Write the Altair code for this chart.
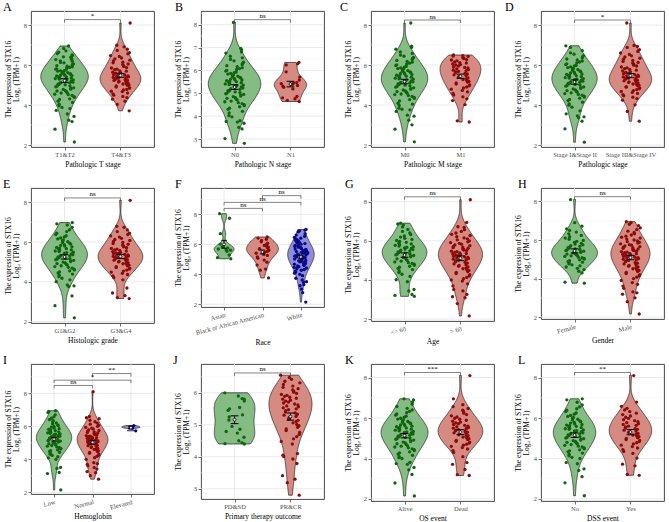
import altair as alt
import pandas as pd

FONT = "Liberation Serif"

# violin fills and point colours for the 1st, 2nd and 3rd group of a panel
FILL = ["#84BC84", "#D68B82", "#8E8ED8"]
DOT = ["#0E650E", "#8B0A0A", "#0A0A8A"]

# ---------------- STX16 expression, log2(TPM+1), per clinical group ----------------
t12 = [2.15, 2.79, 3.17, 3.24, 3.43, 3.55, 3.73, 3.82, 3.88, 3.96, 4.04, 4.13,
       4.19, 4.28, 4.31, 4.39, 4.41, 4.48, 4.52, 4.54, 4.6, 4.61, 4.67, 4.7, 4.72, 4.78, 4.79, 4.84, 4.86, 4.91, 4.94, 4.96,
       5.01, 5.03, 5.04, 5.09, 5.11, 5.13, 5.14, 5.18, 5.2, 5.21, 5.25, 5.26, 5.3, 5.32, 5.34, 5.35, 5.39, 5.4, 5.43, 5.45,
       5.47, 5.49, 5.5, 5.53, 5.55, 5.56, 5.6, 5.62, 5.64, 5.65, 5.69, 5.71, 5.72, 5.76, 5.79, 5.8, 5.85, 5.88,
       5.91, 5.94, 5.97, 5.99, 6.04, 6.06, 6.11, 6.13, 6.19, 6.21, 6.27, 6.29, 6.33, 6.39, 6.41, 6.48, 6.51, 6.57, 6.64,
       6.71, 6.83, 6.95]
t34 = [3.71, 4.03, 4.19, 4.29, 4.37, 4.43, 4.49, 4.56, 4.6, 4.67, 4.69, 4.75, 4.78, 4.84, 4.86, 4.9, 4.95, 4.98,
       5.0, 5.04, 5.05, 5.1, 5.11, 5.15, 5.18, 5.19, 5.23, 5.24, 5.27, 5.29, 5.31, 5.34, 5.37, 5.38, 5.41, 5.44, 5.46,
       5.5, 5.52, 5.55, 5.59, 5.62, 5.64, 5.69, 5.71, 5.77, 5.79, 5.85, 5.87, 5.93, 5.96, 6.02, 6.05, 6.11, 6.14, 6.21,
       6.24, 6.31, 6.35, 6.43, 6.47, 6.56, 6.62, 6.73, 6.79, 6.91, 6.99, 8.1]
n0 = [2.81, 3.02, 3.44, 3.51, 3.69, 3.74, 3.77, 3.8, 3.97, 4.02, 4.14,
      4.21, 4.3, 4.35, 4.41, 4.46, 4.5, 4.55, 4.59, 4.63, 4.66, 4.71, 4.74, 4.78, 4.81, 4.85, 4.88, 4.92, 4.95, 4.98,
      5.01, 5.03, 5.06, 5.09, 5.12, 5.14, 5.17, 5.2, 5.23, 5.25, 5.28, 5.31, 5.33, 5.36, 5.38, 5.41, 5.43, 5.46, 5.48,
      5.51, 5.53, 5.55, 5.58, 5.6, 5.62, 5.65, 5.67, 5.7, 5.72, 5.75, 5.78, 5.81, 5.84, 5.87,
      5.9, 5.93, 5.97, 6.0, 6.04, 6.08, 6.12, 6.17, 6.21, 6.26, 6.31, 6.36, 6.42, 6.48, 6.55, 6.62, 6.76, 6.81, 6.9,
      6.96, 8.1]
n1 = [4.64, 4.69, 4.76, 4.8, 4.86, 5.19, 5.26, 5.31, 5.34, 5.38, 5.42, 5.44, 5.47, 5.58, 5.71, 5.94, 6.24, 6.29, 6.35]
m0 = [2.16, 2.79, 3.01, 3.24, 3.44, 3.49, 3.68, 3.76, 3.79, 3.84, 3.98, 4.04, 4.09,
      4.2, 4.27, 4.33, 4.38, 4.43, 4.47, 4.52, 4.55, 4.59, 4.64, 4.67, 4.71, 4.75, 4.79, 4.82, 4.86, 4.89, 4.93, 4.96, 4.99,
      5.02, 5.05, 5.07, 5.1, 5.13, 5.16, 5.18, 5.21, 5.23, 5.26, 5.29, 5.31, 5.34, 5.36, 5.39, 5.42, 5.44, 5.47, 5.49,
      5.52, 5.55, 5.58, 5.61, 5.63, 5.66, 5.69, 5.72, 5.75, 5.79, 5.82, 5.86,
      5.89, 5.93, 5.97, 6.01, 6.05, 6.09, 6.14, 6.18, 6.23, 6.28, 6.33, 6.38, 6.44, 6.5, 6.58, 6.66, 6.79, 6.88, 6.94, 8.1]
m1 = [3.15, 3.21, 4.02, 4.22, 4.31, 4.41, 4.5, 4.58, 4.66, 4.73, 4.79, 4.85, 4.9, 4.96, 5.01, 5.05, 5.1, 5.14, 5.18,
      5.22, 5.27, 5.31, 5.35, 5.39, 5.43, 5.47, 5.51, 5.55, 5.59, 5.63, 5.66, 5.68, 5.72, 5.74, 5.77, 5.81, 5.86, 5.88,
      5.9, 5.95, 6.0, 6.02, 6.05, 6.1, 6.12, 6.16, 6.21, 6.25, 6.27, 6.32, 6.36, 6.38, 6.43, 6.45, 6.47, 6.5]
s12 = [2.14, 2.81, 3.19, 3.36, 3.41, 3.46, 3.56, 3.71, 3.89, 3.99, 4.06, 4.14,
       4.22, 4.28, 4.34, 4.4, 4.44, 4.49, 4.53, 4.57, 4.61, 4.65, 4.68, 4.72, 4.76, 4.8, 4.83, 4.87, 4.9, 4.94, 4.97,
       5.0, 5.03, 5.06, 5.08, 5.11, 5.14, 5.16, 5.19, 5.22, 5.24, 5.27, 5.3, 5.32, 5.35, 5.37, 5.4, 5.42, 5.45, 5.47,
       5.5, 5.53, 5.55, 5.58, 5.61, 5.64, 5.67, 5.7, 5.73, 5.77, 5.8, 5.83, 5.87,
       5.91, 5.95, 5.98, 6.02, 6.06, 6.11, 6.15, 6.2, 6.25, 6.3, 6.36, 6.41, 6.47, 6.54, 6.61, 6.72, 6.88, 6.96]
s34 = [3.19, 3.68, 4.01, 4.24, 4.32, 4.39, 4.46, 4.52, 4.58, 4.63, 4.68, 4.72, 4.77, 4.81, 4.85, 4.89, 4.92, 4.96, 4.99,
       5.02, 5.05, 5.08, 5.11, 5.13, 5.16, 5.19, 5.21, 5.24, 5.26, 5.29, 5.32, 5.34, 5.37, 5.4, 5.43, 5.46, 5.49, 5.52,
       5.56, 5.59, 5.63, 5.66, 5.7, 5.74, 5.78,
       5.82, 5.86, 5.9, 5.95, 5.99, 6.04, 6.09, 6.13, 6.18, 6.23, 6.29, 6.34, 6.4, 6.46, 6.53, 6.6, 6.68, 6.77, 6.88,
       6.93, 6.98, 8.1]
g12 = [2.19, 2.8, 3.29, 3.76, 3.8, 3.84, 4.01, 4.1, 4.18,
       4.26, 4.33, 4.39, 4.45, 4.5, 4.55, 4.6, 4.64, 4.69, 4.73, 4.77, 4.81, 4.85, 4.88, 4.92, 4.95, 4.99,
       5.02, 5.05, 5.08, 5.11, 5.14, 5.17, 5.2, 5.22, 5.25, 5.28, 5.31, 5.33, 5.36, 5.39, 5.41, 5.44, 5.47, 5.49, 5.52,
       5.55, 5.58, 5.61, 5.64, 5.67, 5.7, 5.73, 5.76, 5.8, 5.83, 5.87,
       5.9, 5.94, 5.98, 6.02, 6.07, 6.11, 6.16, 6.21, 6.26, 6.32, 6.38, 6.45, 6.53, 6.62, 6.74, 6.86, 6.92, 6.98]
g34 = [3.16, 3.21, 3.31, 3.44, 3.69, 4.1,
       4.22, 4.3, 4.37, 4.43, 4.49, 4.54, 4.59, 4.64, 4.68, 4.72, 4.76, 4.8, 4.84, 4.87, 4.91, 4.94, 4.97,
       5.0, 5.03, 5.06, 5.09, 5.12, 5.15, 5.17, 5.2, 5.22, 5.25, 5.28, 5.3, 5.33, 5.35, 5.38, 5.41, 5.43, 5.46, 5.49,
       5.52, 5.55, 5.58, 5.61, 5.65, 5.68, 5.72, 5.76,
       5.8, 5.84, 5.89, 5.93, 5.98, 6.03, 6.08, 6.13, 6.19, 6.25, 6.31, 6.38, 6.45, 6.53, 6.61, 6.74, 6.79, 8.1]
asian = [5.04, 5.11, 5.29, 5.54, 5.61, 5.66, 5.69, 5.76, 5.84, 6.02, 6.71, 7.74, 8.05]
black = [3.76, 4.28, 4.35, 4.62, 4.81, 4.95, 5.08, 5.17, 5.26, 5.33, 5.41, 5.47, 5.53, 5.58, 5.63, 5.68, 5.72, 5.77,
         5.82, 5.88, 5.93, 6.0, 6.08, 6.17, 6.26, 6.34, 6.42, 6.49]
white = [2.15, 2.78, 3.01, 3.24, 3.31, 3.46, 3.51, 3.62, 3.74, 3.91, 4.0, 4.08, 4.15,
         4.21, 4.27, 4.32, 4.37, 4.42, 4.47, 4.51, 4.56, 4.6, 4.64, 4.68, 4.72, 4.75, 4.79, 4.83, 4.86, 4.9, 4.93, 4.96,
         4.99, 5.02, 5.05, 5.08, 5.1, 5.13, 5.16, 5.18, 5.21, 5.24, 5.26, 5.29, 5.31, 5.34, 5.37, 5.39, 5.42, 5.44,
         5.47, 5.5, 5.52, 5.55, 5.58, 5.6, 5.63, 5.66, 5.69, 5.72, 5.76, 5.79, 5.82, 5.86,
         5.89, 5.93, 5.97, 6.01, 6.05, 6.1, 6.14, 6.19, 6.24, 6.29, 6.35, 6.41, 6.47, 6.54, 6.62, 6.71, 6.84, 6.9,
         6.95, 6.99]
age_le60 = [3.16, 3.21, 3.26, 3.44, 3.51, 3.91, 4.01,
            4.18, 4.29, 4.38, 4.46, 4.53, 4.59, 4.65, 4.7, 4.75, 4.8, 4.84, 4.88, 4.92, 4.96,
            5.0, 5.04, 5.08, 5.11, 5.15, 5.18, 5.22, 5.25, 5.28, 5.31, 5.34, 5.37, 5.4, 5.43, 5.46, 5.49, 5.52, 5.55,
            5.58, 5.61, 5.64, 5.67, 5.7, 5.73, 5.77, 5.8, 5.84,
            5.88, 5.92, 5.97, 6.02, 6.07, 6.13, 6.19, 6.25, 6.32, 6.4, 6.48, 6.58, 6.71, 6.81, 6.86, 6.9]
age_gt60 = [2.16, 2.79, 3.09, 3.14, 3.26, 3.44, 3.51, 3.69, 3.8, 3.94, 4.0, 4.06, 4.13,
            4.2, 4.27, 4.33, 4.38, 4.43, 4.48, 4.53, 4.57, 4.62, 4.66, 4.7, 4.74, 4.78, 4.82, 4.86, 4.9, 4.93, 4.97,
            5.0, 5.03, 5.06, 5.09, 5.12, 5.15, 5.18, 5.21, 5.24, 5.27, 5.3, 5.33, 5.35, 5.38, 5.41, 5.44, 5.47, 5.5,
            5.53, 5.56, 5.59, 5.62, 5.65, 5.68, 5.72, 5.75, 5.79, 5.83,
            5.87, 5.91, 5.95, 6.0, 6.05, 6.1, 6.15, 6.21, 6.27, 6.33, 6.4, 6.48, 6.57, 6.68, 6.72, 6.94, 8.1]
female = [3.76, 3.81, 4.29, 4.38, 4.46, 4.53, 4.6, 4.66, 4.71, 4.76, 4.81, 4.85, 4.89, 4.93, 4.97,
          5.01, 5.04, 5.08, 5.11, 5.15, 5.18, 5.21, 5.24, 5.27, 5.3, 5.33, 5.36, 5.39, 5.42, 5.45, 5.48, 5.51, 5.54,
          5.57, 5.6, 5.64, 5.67, 5.71, 5.75, 5.79,
          5.83, 5.88, 5.93, 5.98, 6.04, 6.1, 6.17, 6.24, 6.32, 6.41, 6.5, 6.58, 6.72, 6.9, 8.1]
male = [2.16, 2.8, 3.0, 3.19, 3.26, 3.31, 3.49, 3.61, 3.7, 3.79, 3.9, 4.0, 4.07, 4.14,
        4.2, 4.26, 4.32, 4.37, 4.42, 4.47, 4.51, 4.56, 4.6, 4.64, 4.68, 4.72, 4.76, 4.8, 4.83, 4.87, 4.9, 4.94, 4.97,
        5.0, 5.03, 5.06, 5.09, 5.12, 5.15, 5.18, 5.2, 5.23, 5.26, 5.29, 5.31, 5.34, 5.37, 5.4, 5.42, 5.45, 5.48,
        5.51, 5.54, 5.57, 5.6, 5.63, 5.66, 5.69, 5.73, 5.76, 5.8, 5.84,
        5.88, 5.92, 5.96, 6.0, 6.05, 6.1, 6.15, 6.2, 6.26, 6.32, 6.39, 6.46, 6.54, 6.63, 6.75, 6.82, 6.91, 6.95]
hb_low = [2.15, 3.14, 3.21, 3.45, 3.51, 4.0, 4.09, 4.16,
          4.24, 4.31, 4.37, 4.43, 4.48, 4.53, 4.58, 4.63, 4.67, 4.72, 4.76, 4.8, 4.84, 4.88, 4.91, 4.95, 4.98,
          5.02, 5.05, 5.08, 5.11, 5.14, 5.17, 5.2, 5.23, 5.26, 5.29, 5.32, 5.35, 5.37, 5.4, 5.43, 5.46, 5.49, 5.52,
          5.55, 5.58, 5.61, 5.64, 5.67, 5.71, 5.74, 5.78, 5.82,
          5.86, 5.9, 5.95, 5.99, 6.04, 6.09, 6.15, 6.21, 6.27, 6.34, 6.41, 6.49, 6.58, 6.7, 6.84, 6.9, 6.95]
hb_normal = [2.8, 3.01, 3.19, 3.26, 3.41, 3.5, 3.61, 3.69, 3.74, 3.8, 4.0, 4.1,
             4.18, 4.25, 4.31, 4.37, 4.42, 4.47, 4.52, 4.56, 4.6, 4.64, 4.68, 4.72, 4.76, 4.79, 4.83, 4.86, 4.9, 4.93,
             4.96, 4.99, 5.02, 5.05, 5.08, 5.1, 5.13, 5.16, 5.19, 5.21, 5.24, 5.27, 5.3, 5.32, 5.35, 5.38, 5.41,
             5.44, 5.47, 5.5, 5.53, 5.56, 5.6, 5.63, 5.67, 5.71,
             5.75, 5.79, 5.84, 5.89, 5.94, 6.0, 6.06, 6.13, 6.2, 6.28, 6.37, 6.46, 6.52, 6.6, 8.1]
hb_elevated = [5.73, 5.9, 5.95, 5.98, 6.05]
pd_sd = [4.4, 4.41, 4.44, 4.5, 4.61, 4.74, 4.79, 4.86, 4.95, 5.15, 5.25, 5.31, 5.45, 5.5, 5.54, 5.74, 5.8, 5.82,
         5.9, 6.0]
pr_cr = [2.8, 3.19, 3.3, 3.41, 3.79, 3.93, 4.01, 4.05, 4.1, 4.4, 4.48, 4.56,
         4.63, 4.7, 4.76, 4.82, 4.87, 4.92, 4.97, 5.01, 5.06, 5.1, 5.14, 5.18, 5.22, 5.26, 5.3, 5.33, 5.37, 5.4,
         5.44, 5.47, 5.5, 5.53, 5.56, 5.59, 5.62, 5.65, 5.68, 5.71, 5.74, 5.77, 5.8, 5.83, 5.86, 5.89, 5.92, 5.95,
         5.98, 6.02, 6.05, 6.09, 6.13, 6.17, 6.21, 6.26, 6.31, 6.36, 6.42, 6.48, 6.55]
alive = [2.15, 2.79, 3.21, 3.44, 3.56, 3.71, 3.75, 3.81, 4.0, 4.04, 4.1, 4.16,
         4.22, 4.28, 4.33, 4.39, 4.44, 4.48, 4.53, 4.57, 4.61, 4.65, 4.69, 4.73, 4.77, 4.81, 4.84, 4.88, 4.91, 4.95,
         4.98, 5.01, 5.04, 5.07, 5.1, 5.13, 5.15, 5.18, 5.21, 5.24, 5.26, 5.29, 5.32, 5.34, 5.37, 5.4, 5.42, 5.45,
         5.48, 5.51, 5.54, 5.57, 5.6, 5.63, 5.66, 5.69, 5.72, 5.76, 5.79, 5.83,
         5.87, 5.91, 5.95, 5.99, 6.04, 6.09, 6.14, 6.2, 6.26, 6.33, 6.4, 6.48, 6.57, 6.68, 6.8, 6.9, 6.95]
dead = [3.16, 3.2, 3.46, 3.71, 3.8, 4.09,
        4.3, 4.39, 4.47, 4.54, 4.6, 4.66, 4.71, 4.76, 4.81, 4.85, 4.9, 4.94, 4.98,
        5.02, 5.06, 5.1, 5.13, 5.17, 5.2, 5.24, 5.27, 5.3, 5.34, 5.37, 5.4, 5.43, 5.47, 5.5, 5.53, 5.57, 5.6,
        5.64, 5.68, 5.72, 5.76, 5.8, 5.84,
        5.89, 5.94, 5.99, 6.05, 6.11, 6.17, 6.24, 6.31, 6.39, 6.47, 6.56, 6.66, 6.95, 8.1]
dss_no = [2.16, 2.8, 3.1, 3.41, 3.49, 3.74, 3.8, 4.0, 4.06, 4.13,
          4.2, 4.27, 4.33, 4.38, 4.43, 4.48, 4.52, 4.57, 4.61, 4.65, 4.69, 4.73, 4.77, 4.8, 4.84, 4.88, 4.91, 4.94,
          4.98, 5.01, 5.04, 5.07, 5.1, 5.13, 5.16, 5.19, 5.22, 5.24, 5.27, 5.3, 5.33, 5.36, 5.38, 5.41, 5.44, 5.47,
          5.5, 5.53, 5.56, 5.59, 5.62, 5.65, 5.68, 5.71, 5.75, 5.78, 5.82,
          5.86, 5.9, 5.94, 5.98, 6.03, 6.08, 6.13, 6.19, 6.25, 6.32, 6.39, 6.46, 6.55, 6.65, 6.78, 6.9, 6.95]
dss_yes = [3.17, 3.21, 3.64, 3.72, 4.02,
           4.25, 4.35, 4.44, 4.52, 4.59, 4.66, 4.72, 4.78, 4.84, 4.89, 4.94, 4.99,
           5.03, 5.08, 5.12, 5.16, 5.2, 5.24, 5.28, 5.32, 5.36, 5.4, 5.44, 5.48, 5.52, 5.56, 5.6, 5.64, 5.68, 5.72,
           5.77, 5.82, 5.87, 5.92, 5.98, 6.04, 6.1, 6.17, 6.24, 6.32, 6.4, 6.48, 6.58, 6.79, 8.1]

# ---------------- panel definitions ----------------
# brackets: (first group, second group, bracket level, significance label)
PANELS = [
    dict(letter="A", dx=-28, cats=["T1&T2", "T4&T3"], values=[t12, t34], xtitle="Pathologic T stage",
         ydom=[1.9, 8.7], yticks=[2, 4, 6, 8], widths=[0.85, 0.73], brackets=[(1, 2, 8.27, "*")], h=136, angle=0),
    dict(letter="B", dx=-26, cats=["N0", "N1"], values=[n0, n1], xtitle="Pathologic N stage",
         ydom=[2.65, 8.6], yticks=[3, 4, 5, 6, 7, 8], widths=[0.94, 0.58], brackets=[(1, 2, 8.22, "ns")], h=136, angle=0),
    dict(letter="C", dx=-31, cats=["M0", "M1"], values=[m0, m1], xtitle="Pathologic M stage",
         ydom=[1.9, 8.7], yticks=[2, 4, 6, 8], widths=[0.83, 0.73], brackets=[(1, 2, 8.25, "ns")], h=136, angle=0),
    dict(letter="D", dx=-36, cats=["Stage I&Stage II", "Stage III&Stage IV"], values=[s12, s34],
         xtitle="Pathologic stage", ydom=[1.9, 8.7], yticks=[2, 4, 6, 8], widths=[0.81, 0.76],
         brackets=[(1, 2, 8.25, "*")], h=136, angle=0),
    dict(letter="E", dx=-28, cats=["G1&G2", "G3&G4"], values=[g12, g34], xtitle="Histologic grade",
         ydom=[1.93, 8.72], yticks=[2, 4, 6, 8], widths=[0.82, 0.8], brackets=[(1, 2, 8.22, "ns")], h=135, angle=0),
    dict(letter="F", dx=-26, cats=["Asian", "Black or African American", "White"], values=[asian, black, white],
         xtitle="Race", ydom=[1.82, 9.76], yticks=[2, 4, 6, 8], widths=[0.52, 0.83, 0.69],
         brackets=[(1, 2, 8.4, "ns"), (1, 3, 8.8, "ns"), (2, 3, 9.25, "ns")], h=119, angle=345),
    dict(letter="G", dx=-26, cats=["<= 60", "> 60"], values=[age_le60, age_gt60], xtitle="Age",
         ydom=[1.9, 8.7], yticks=[2, 4, 6, 8], widths=[0.8, 0.79], brackets=[(1, 2, 8.25, "ns")], h=133, angle=345),
    dict(letter="H", dx=-23, cats=["Female", "Male"], values=[female, male], xtitle="Gender",
         ydom=[1.9, 8.7], yticks=[2, 4, 6, 8], widths=[0.82, 0.7], brackets=[(1, 2, 8.25, "ns")], h=131, angle=345),
    dict(letter="I", dx=-28, cats=["Low", "Normal", "Elevated"], values=[hb_low, hb_normal, hb_elevated],
         xtitle="Hemoglobin", ydom=[1.9, 9.78], yticks=[2, 4, 6, 8], widths=[0.92, 0.8, 0.48],
         brackets=[(1, 2, 8.48, "ns"), (1, 3, 8.8, "*"), (2, 3, 9.2, "**")], h=130, angle=345),
    dict(letter="J", dx=-28, cats=["PD&SD", "PR&CR"], values=[pd_sd, pr_cr], xtitle="Primary therapy outcome",
         ydom=[2.68, 6.9], yticks=[3, 4, 5, 6], widths=[0.73, 0.77], brackets=[(1, 2, 6.62, "ns")], h=135, angle=0),
    dict(letter="K", dx=-26, cats=["Alive", "Dead"], values=[alive, dead], xtitle="OS event",
         ydom=[1.9, 8.67], yticks=[2, 4, 6, 8], widths=[0.84, 0.8], brackets=[(1, 2, 8.25, "***")], h=137, angle=0),
    dict(letter="L", dx=-23, cats=["No", "Yes"], values=[dss_no, dss_yes], xtitle="DSS event",
         ydom=[1.9, 8.67], yticks=[2, 4, 6, 8], widths=[0.76, 0.76], brackets=[(1, 2, 8.25, "**")], h=137, angle=0),
]

PANEL_W = 123
GRID_MAJOR = "#E4E4E4"
GRID_MINOR = "#F1F1F1"
INK = "#333333"
AXIS_TEXT = "#4D4D4D"
JITTER = 0.36      # full horizontal spread of the jittered points, in category units


def minor_breaks(ticks, lo, hi):
    step = ticks[1] - ticks[0]
    mids = [t - step / 2 for t in ticks] + [ticks[-1] + step / 2]
    return [m for m in mids if lo < m < hi]


def category_label_expr(cats):
    expr = "''"
    for i in reversed(range(len(cats))):
        expr = f"datum.value == {i + 1} ? '{cats[i]}' : ({expr})"
    return expr


def make_panel(p):
    n = len(p["cats"])
    idx = list(range(1, n + 1))
    lo, hi = p["ydom"]
    xs = alt.Scale(domain=[0.4, n + 0.6], nice=False, zero=False)
    ys = alt.Scale(domain=[lo, hi], nice=False, zero=False)

    y_axis = alt.Axis(values=p["yticks"], title=["The expression  of STX16", "Log₂ (TPM+1)"],
                      labelFlush=False, titlePadding=3, labelPadding=1.5, grid=False, domain=False,
                      tickSize=3, tickColor=INK, tickWidth=0.7, labelFont=FONT, labelFontSize=6.5,
                      labelColor=AXIS_TEXT, titleFont=FONT, titleFontSize=7.5, titleFontWeight="normal",
                      titleColor="black", titleLineHeight=8)
    x_kw = dict(values=idx, labelExpr=category_label_expr(p["cats"]), title=p["xtitle"],
                labelFlush=False, labelOverlap=False, labelPadding=1.5, titlePadding=2, grid=False,
                domain=False, tickSize=3, tickColor=INK, tickWidth=0.7, labelFont=FONT, labelFontSize=6.5,
                labelColor=AXIS_TEXT, titleFont=FONT, titleFontSize=7.5, titleFontWeight="normal",
                titleColor="black")
    if p["angle"]:
        x_kw.update(labelAngle=p["angle"], labelAlign="right", labelBaseline="top")
    x_axis = alt.Axis(**x_kw)

    # every layer shares the same scales and the same axis definitions
    def X(field):
        return alt.X(field, scale=xs, axis=x_axis)

    def Y(field):
        return alt.Y(field, scale=ys, axis=y_axis)

    layers = []

    # background grid (minor + major horizontals, verticals at categories)
    layers.append(alt.Chart(pd.DataFrame({"y": minor_breaks(p["yticks"], lo, hi)})).mark_rule(
        color=GRID_MINOR, strokeWidth=0.5).encode(y=Y("y:Q")))
    layers.append(alt.Chart(pd.DataFrame({"y": p["yticks"]})).mark_rule(
        color=GRID_MAJOR, strokeWidth=0.8).encode(y=Y("y:Q")))
    layers.append(alt.Chart(pd.DataFrame({"x": idx})).mark_rule(
        color=GRID_MAJOR, strokeWidth=0.8).encode(x=X("x:Q")))

    # trimmed kernel-density violins
    for i, vals in enumerate(p["values"]):
        g = i + 1
        half = p["widths"][i] / 2
        layers.append(alt.Chart(pd.DataFrame({"v": vals})).transform_density(
            "v", as_=["v", "dens"], steps=160
        ).transform_joinaggregate(
            dmax="max(dens)"
        ).transform_calculate(
            lo=f"{g} - {half} * datum.dens / datum.dmax",
            hi=f"{g} + {half} * datum.dens / datum.dmax",
        ).mark_area(orient="horizontal", fill=FILL[i], stroke="#1E1E1E", strokeWidth=0.7).encode(
            y=Y("v:Q"), x=X("lo:Q"), x2="hi:Q",
        ))

    # jittered samples
    for i, vals in enumerate(p["values"]):
        g = i + 1
        layers.append(alt.Chart(pd.DataFrame({"v": vals})).transform_window(
            rn="row_number()"
        ).transform_calculate(
            jx=f"{g} + ((((sin(datum.rn * 12.9898 + {g * 4.1414}) * 43758.5453) % 1) + 1) % 1 - 0.5) * {JITTER}"
        ).mark_circle(size=11, opacity=1, color=DOT[i]).encode(x=X("jx:Q"), y=Y("v:Q")))

    # mean +/- standard error
    for i, vals in enumerate(p["values"]):
        g = i + 1
        stats = alt.Chart(pd.DataFrame({"v": vals})).transform_aggregate(
            m="mean(v)", se="stderr(v)"
        ).transform_calculate(
            a="datum.m - datum.se", b="datum.m + datum.se", gx=f"{g}", cl=f"{g} - 0.07", cr=f"{g} + 0.07"
        )
        layers.append(stats.mark_rule(color="black", strokeWidth=1).encode(x=X("gx:Q"), y=Y("a:Q"), y2="b:Q"))
        layers.append(stats.mark_rule(color="black", strokeWidth=1).encode(x=X("cl:Q"), x2="cr:Q", y=Y("a:Q")))
        layers.append(stats.mark_rule(color="black", strokeWidth=1).encode(x=X("cl:Q"), x2="cr:Q", y=Y("b:Q")))
        layers.append(stats.mark_point(filled=True, fill="white", stroke="black", strokeWidth=0.8,
                                       size=8, opacity=1).encode(x=X("gx:Q"), y=Y("m:Q")))

    # significance brackets
    br = alt.Chart(pd.DataFrame(p["brackets"], columns=["x1", "x2", "y", "lab"]))
    layers.append(br.mark_rule(color=INK, strokeWidth=0.6).encode(x=X("x1:Q"), x2="x2:Q", y=Y("y:Q")))
    layers.append(br.mark_rule(color=INK, strokeWidth=0.6, y2Offset=3).encode(x=X("x1:Q"), y=Y("y:Q"), y2="y:Q"))
    layers.append(br.mark_rule(color=INK, strokeWidth=0.6, y2Offset=3).encode(x=X("x2:Q"), y=Y("y:Q"), y2="y:Q"))
    layers.append(br.transform_calculate(xm="(datum.x1 + datum.x2) / 2").mark_text(
        baseline="bottom", dy=-0.5, fontSize=7, font=FONT, color="black").encode(
        x=X("xm:Q"), y=Y("y:Q"), text="lab:N"))

    return alt.layer(*layers).properties(
        width=PANEL_W,
        height=p["h"],
        title=alt.TitleParams(p["letter"], anchor="start", dx=p["dx"], dy=4, fontSize=12, font=FONT,
                              fontWeight="normal", offset=1, frame="group", color="black"),
    )


chart = alt.concat(
    *[make_panel(p) for p in PANELS],
    columns=4,
    spacing=alt.RowColnumber(row=41, column=47),
    bounds="flush",
).properties(
    padding={"left": 2, "top": 0, "right": 0, "bottom": 0}
).configure_view(
    stroke=INK, strokeWidth=0.9
)

chart.save("out.html", embed_options={"renderer": "svg", "actions": False})
